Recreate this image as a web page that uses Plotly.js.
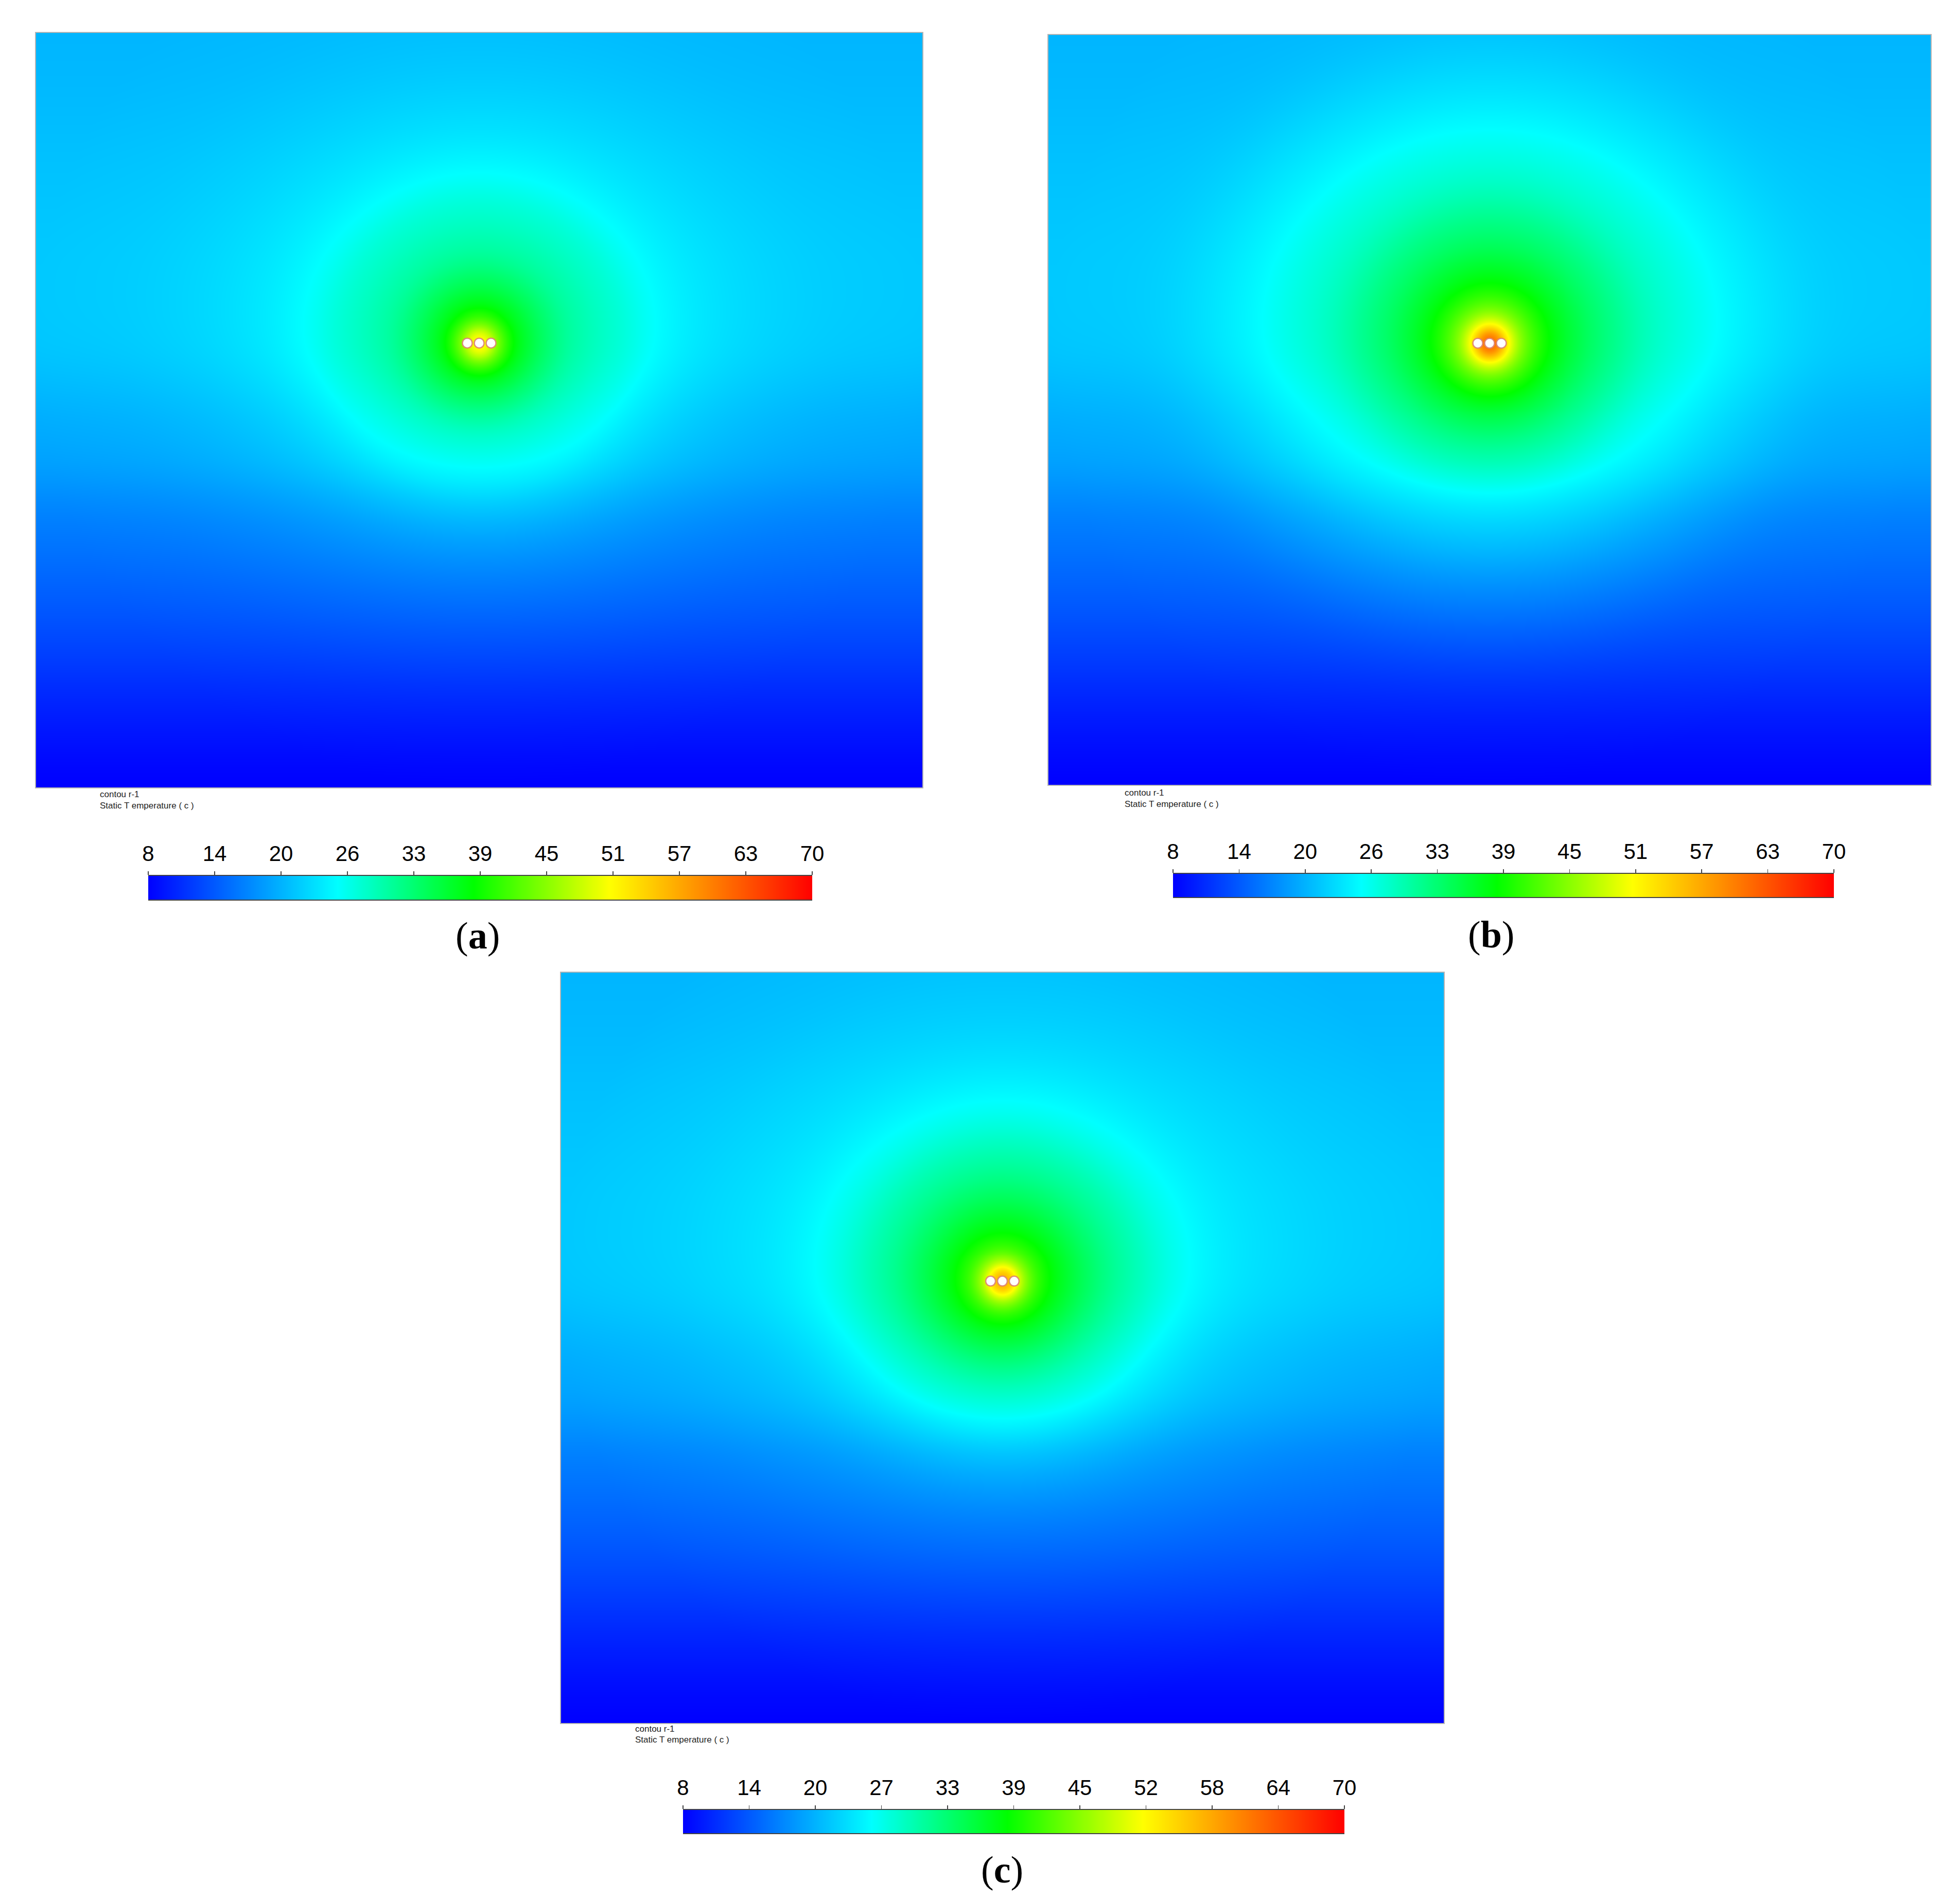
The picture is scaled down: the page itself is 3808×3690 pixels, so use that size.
<!DOCTYPE html>
<html><head><meta charset="utf-8">
<script src="https://cdn.plot.ly/plotly-3.0.1.min.js"></script>
<style>html,body{margin:0;padding:0;background:#fff;} #chart{width:3808px;height:3690px;}</style>
</head><body><div id="chart"></div>
<script>
// ---------------- data ----------------
const tempMin = 8, tempMax = 70;
const ticksA = ['8','14','20','26','33','39','45','51','57','63','70'];
const ticksB = ['8','14','20','26','33','39','45','51','57','63','70'];
const ticksC = ['8','14','20','27','33','39','45','52','58','64','70'];
const panelLabels = ['a', 'b', 'c'];
const legendLine1 = 'contou r-1';
const legendLine2 = 'Static T emperature ( c )';

// Fluent rainbow colour scale
const rainbow = [[0, 'rgb(0,0,255)'], [0.285, 'rgb(0,255,255)'], [0.49, 'rgb(0,255,0)'], [0.695, 'rgb(255,255,0)'], [1, 'rgb(255,0,0)']];

// domain (image units) and cable positions
const domainWidth = 1720, domainHeight = 1462;
const cableRowDepth = 601;
const cableOffsets = [-23, 0, 23];

// far-field temperature along the side of the domain (depth fraction -> degC)
const sideDepth = [0, 0.06, 0.19, 0.32, 0.41, 0.51, 0.57, 0.64, 0.70, 0.77, 0.83, 0.89, 0.96, 1.0];
const sideTemp  = [20.6, 20.8, 21.5, 21.9, 21.7, 20.1, 19.1, 17.0, 15.6, 13.9, 12.2, 10.4, 8.7, 8.0];

// temperature along the cable row vs distance from the centre cable
const distA = [0, 15, 25, 35, 50, 68, 100, 135, 170, 220, 280, 330, 400, 495, 650, 862];
const tempA = [52, 50, 47.5, 44.5, 41, 38, 35, 32.5, 30.5, 28.8, 27.2, 25.7, 24.2, 23, 22, 21.5];
const distB = [0, 15, 27, 37, 55, 71, 105, 180, 246, 311, 399, 497, 640, 857];
const tempB = [62, 59, 54.5, 50.5, 45.5, 42.5, 38.4, 33.4, 30.4, 27.9, 25.7, 23.6, 21.5, 20.8];
const distC = [0, 15, 27, 40, 60, 85, 130, 200, 260, 336, 430, 600, 860];
const tempC = [57, 54.5, 50.5, 46, 41.5, 38.4, 35, 31, 28.5, 25.7, 23.6, 22, 21];

// ---------------- helpers ----------------
function monotone(xs, ys) {
  const n = xs.length, d = [], m = new Array(n);
  for (let i = 0; i < n - 1; i++) d.push((ys[i+1]-ys[i])/(xs[i+1]-xs[i]));
  m[0] = d[0]; m[n-1] = d[n-2];
  for (let i = 1; i < n - 1; i++) m[i] = (d[i-1]*d[i] <= 0) ? 0 : (d[i-1]+d[i])/2;
  for (let i = 0; i < n - 1; i++) {
    if (d[i] === 0) { m[i] = 0; m[i+1] = 0; continue; }
    const a = m[i]/d[i], b = m[i+1]/d[i], s = a*a + b*b;
    if (s > 9) { const t = 3/Math.sqrt(s); m[i] = t*a*d[i]; m[i+1] = t*b*d[i]; }
  }
  return function(x) {
    if (x <= xs[0]) return ys[0];
    if (x >= xs[n-1]) return ys[n-1];
    let i = 1; while (x > xs[i]) i++;
    const h = xs[i]-xs[i-1], t = (x-xs[i-1])/h, t2 = t*t, t3 = t2*t;
    return (2*t3-3*t2+1)*ys[i-1] + (t3-2*t2+t)*h*m[i-1] + (-2*t3+3*t2)*ys[i] + (t3-t2)*h*m[i];
  };
}
const sideFn = monotone(sideDepth, sideTemp);
const step = 4;
const gx = [], gy = [];
for (let x = 0; x <= domainWidth; x += step) gx.push(x);
for (let y = 0; y <= domainHeight; y += step) gy.push(y);

function buildField(dist, temp) {
  const rowFn = monotone(dist, temp);
  const far = temp[temp.length-1];
  const cx = domainWidth/2;
  const bg = gy.map(y => sideFn(y/domainHeight));
  return gy.map((y, j) => gx.map(x => {
    const r = Math.hypot(x-cx, y-cableRowDepth);
    return bg[j] + Math.max(0, rowFn(r) - far);
  }));
}

const W = 3808, H = 3690;
const px = v => v/W, py = v => 1 - v/H;

const panels = [
  {dist: distA, temp: tempA, ticks: ticksA, box: [70, 1792, 64, 1530], bar: [288, 1578, 1702, 1748], txt: [192, 1543, 1565], lab: [928, 1818]},
  {dist: distB, temp: tempB, ticks: ticksB, box: [2037, 3751, 68, 1525], bar: [2279, 3563, 1698, 1743], txt: [2183, 1540, 1562], lab: [2897, 1816]},
  {dist: distC, temp: tempC, ticks: ticksC, box: [1090, 2805, 1890, 3348], bar: [1327, 2612, 3517, 3562], txt: [1232, 3359, 3380], lab: [1947, 3633]}
];

const data = [];
const layout = {width: W, height: H, margin: {l:0, r:0, t:0, b:0}, paper_bgcolor: 'white', plot_bgcolor: 'white', showlegend: false, annotations: []};

const panelAxis = {showgrid: false, zeroline: false, showticklabels: false, ticks: '', showline: true, mirror: true, linecolor: '#b4b4b4', linewidth: 2, fixedrange: true};

panels.forEach((p, k) => {
  const ax = 2*k + 1, cb = 2*k + 2;
  const xn = 'x' + (ax === 1 ? '' : ax), yn = 'y' + (ax === 1 ? '' : ax);
  const xcn = 'x' + cb, ycn = 'y' + cb;
  data.push({type: 'heatmap', x: gx, y: gy, z: buildField(p.dist, p.temp), zsmooth: 'best', colorscale: rainbow, zmin: tempMin, zmax: tempMax, showscale: false, hoverinfo: 'skip', xaxis: xn, yaxis: yn});
  data.push({type: 'scatter', mode: 'markers', x: cableOffsets.map(o => domainWidth/2 + o), y: cableOffsets.map(() => cableRowDepth),
    marker: {size: 19, color: 'white', line: {color: 'rgba(222,130,115,0.9)', width: 2.5}}, hoverinfo: 'skip', xaxis: xn, yaxis: yn});
  data.push({type: 'heatmap', x: [tempMin, tempMax], y: [0, 1], z: [[tempMin, tempMax], [tempMin, tempMax]], zsmooth: 'best', colorscale: rainbow, zmin: tempMin, zmax: tempMax, showscale: false, hoverinfo: 'skip', xaxis: xcn, yaxis: ycn});

  const axName = ax === 1 ? 'xaxis' : 'xaxis' + ax, ayName = ax === 1 ? 'yaxis' : 'yaxis' + ax;
  layout[axName] = Object.assign({}, panelAxis, {domain: [px(p.box[0]), px(p.box[1])], range: [0, domainWidth], anchor: yn});
  layout[ayName] = Object.assign({}, panelAxis, {domain: [py(p.box[3]), py(p.box[2])], range: [domainHeight, 0], anchor: xn});
  const tv = p.ticks.map((_, i) => tempMin + i*(tempMax-tempMin)/(p.ticks.length-1));
  layout['xaxis' + cb] = {domain: [px(p.bar[0]), px(p.bar[1])], range: [tempMin, tempMax], anchor: ycn, side: 'top',
    ticks: 'outside', ticklen: 7, tickwidth: 1.5, tickcolor: '#444', tickvals: tv, ticktext: p.ticks, ticklabelstandoff: 3,
    tickfont: {family: 'Liberation Sans, Arial, sans-serif', size: 42, color: '#000'},
    showline: true, mirror: true, linecolor: '#444', linewidth: 2, showgrid: false, zeroline: false, fixedrange: true};
  layout['yaxis' + cb] = {domain: [py(p.bar[3]), py(p.bar[2])], range: [0, 1], anchor: xcn, showgrid: false, zeroline: false, showticklabels: false, ticks: '', showline: false, fixedrange: true};

  const small = {family: 'Liberation Sans, Arial, sans-serif', size: 17, color: '#222'};
  layout.annotations.push({xref: 'paper', yref: 'paper', x: px(p.txt[0]), y: py(p.txt[1]), xanchor: 'left', yanchor: 'middle', text: legendLine1, showarrow: false, font: small});
  layout.annotations.push({xref: 'paper', yref: 'paper', x: px(p.txt[0]), y: py(p.txt[2]), xanchor: 'left', yanchor: 'middle', text: legendLine2, showarrow: false, font: small});
  layout.annotations.push({xref: 'paper', yref: 'paper', x: px(p.lab[0]), y: py(p.lab[1]), xanchor: 'center', yanchor: 'middle', text: '(<b>' + panelLabels[k] + '</b>)', showarrow: false,
    font: {family: 'Liberation Serif, Times New Roman, serif', size: 74, color: '#000'}});
});

Plotly.newPlot('chart', data, layout, {staticPlot: true, displayModeBar: false});
</script>
</body></html>
